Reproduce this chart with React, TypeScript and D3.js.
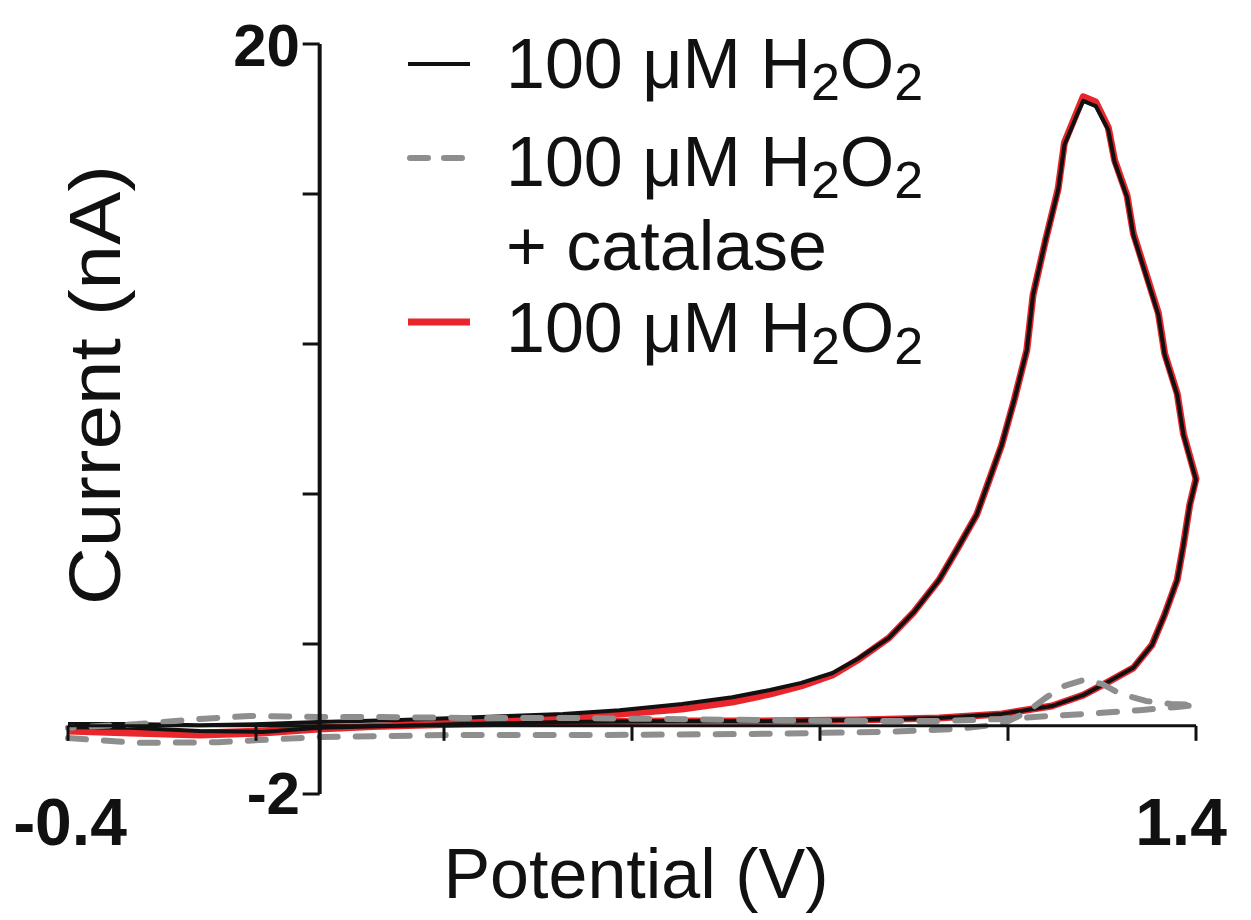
import React from "react";
import * as d3 from "d3";

// ---- Data ----
const blackV = [-0.4, -0.3, -0.19, -0.09, 0.0, 0.13, 0.26, 0.39, 0.48, 0.58, 0.66, 0.72, 0.77, 0.82, 0.86, 0.91, 0.95, 0.99, 1.02, 1.05, 1.07, 1.09, 1.11, 1.13, 1.14, 1.16, 1.18, 1.19, 1.21, 1.22, 1.24, 1.26, 1.27, 1.29, 1.3, 1.32, 1.34, 1.35, 1.37, 1.38, 1.4,
  1.39, 1.38, 1.37, 1.35, 1.33, 1.3, 1.26, 1.22, 1.17, 1.09, 0.99, 0.86, 0.7, 0.55, 0.39, 0.23, 0.1, 0.0, -0.09, -0.19, -0.3, -0.4];
const blackI = [0.05, 0.05, 0.02, 0.05, 0.11, 0.17, 0.26, 0.35, 0.46, 0.64, 0.84, 1.05, 1.26, 1.55, 1.96, 2.58, 3.34, 4.28, 5.22, 6.19, 7.21, 8.24, 9.56, 11.02, 12.64, 14.25, 15.72, 17.04, 17.92, 18.33, 18.18, 17.48, 16.54, 15.51, 14.4, 13.23, 12.05, 10.88, 9.71, 8.53, 7.21,
  6.48, 5.31, 4.28, 3.26, 2.38, 1.7, 1.29, 0.9, 0.58, 0.35, 0.23, 0.17, 0.14, 0.14, 0.11, 0.05, -0.01, -0.06, -0.18, -0.15, -0.06, -0.04];

const redV = [-0.4, -0.3, -0.19, -0.09, 0.0, 0.13, 0.26, 0.39, 0.48, 0.58, 0.66, 0.72, 0.77, 0.82, 0.86, 0.91, 0.95, 0.99, 1.02, 1.05, 1.07, 1.09, 1.11, 1.13, 1.14, 1.16, 1.18, 1.19, 1.21, 1.22, 1.24, 1.26, 1.27, 1.29, 1.3, 1.32, 1.34, 1.35, 1.37, 1.38, 1.4,
  1.39, 1.38, 1.37, 1.35, 1.33, 1.3, 1.26, 1.22, 1.17, 1.09, 0.99, 0.86, 0.7, 0.55, 0.39, 0.23, 0.1, 0.0, -0.09, -0.19, -0.3, -0.4];
const redI = [-0.15, -0.21, -0.27, -0.21, -0.09, 0.02, 0.14, 0.26, 0.35, 0.49, 0.7, 0.93, 1.17, 1.49, 1.93, 2.58, 3.34, 4.28, 5.22, 6.19, 7.21, 8.24, 9.56, 11.02, 12.64, 14.25, 15.75, 17.1, 18.0, 18.45, 18.3, 17.55, 16.6, 15.55, 14.45, 13.28, 12.1, 10.92, 9.75, 8.57, 7.25,
  6.48, 5.31, 4.28, 3.26, 2.38, 1.7, 1.29, 0.9, 0.58, 0.35, 0.23, 0.17, 0.14, 0.14, 0.11, 0.05, -0.01, -0.06, -0.15, -0.21, -0.18, -0.09];

const grayV = [-0.4, -0.29, -0.16, 0.0, 0.21, 0.45, 0.69, 0.9, 1.02, 1.09, 1.13, 1.16, 1.19, 1.22, 1.25, 1.28, 1.32, 1.36, 1.4,
  1.37, 1.31, 1.25, 1.17, 1.09, 0.99, 0.86, 0.7, 0.55, 0.39, 0.23, 0.1, 0.0, -0.11, -0.19, -0.29, -0.4];
const grayI = [-0.36, -0.5, -0.48, -0.33, -0.27, -0.27, -0.24, -0.18, -0.09, 0.05, 0.4, 0.82, 1.17, 1.34, 1.23, 0.93, 0.73, 0.64, 0.61,
  0.55, 0.46, 0.38, 0.29, 0.2, 0.14, 0.14, 0.17, 0.2, 0.23, 0.23, 0.26, 0.26, 0.29, 0.2, 0.05, -0.06];

const xTicks = [-0.4, -0.1, 0.2, 0.5, 0.8, 1.1, 1.4];
const yTicks = [-2, 2.4, 6.8, 11.2, 15.6, 20];
const xTickLabels = ["-0.4", "1.4"];
const yTickLabels = ["-2", "20"];
const legendLabels = ["100 \u03bcM H", "100 \u03bcM H", "100 \u03bcM H"];

const W = 1251;
const H = 920;

export default function App() {
  const x = d3.scaleLinear().domain([-0.4, 1.4]).range([68, 1196]);
  const y = d3.scaleLinear().domain([-2, 20]).range([794, 44]);
  const line = d3
    .line<[number, number]>()
    .x((d) => x(d[0]))
    .y((d) => y(d[1]))
    .curve(d3.curveLinear);
  const zip = (a: number[], b: number[]) => a.map((v, i) => [v, b[i]] as [number, number]);

  const font = "Arial, 'Liberation Sans', Helvetica, sans-serif";
  const y0 = y(0);
  const yAxisX = x(0) + 1;

  const legendFont = 70;
  const subFont = 52;
  const legendX = 506;
  const rows = [88, 186, 270, 352];

  const H2O2 = (label: string, by: number) => (
    <text x={legendX} y={by} fontSize={legendFont} fontFamily={font} fill="#111">
      {label}
      <tspan fontSize={subFont} dy={12}>2</tspan>
      <tspan dy={-12}>O</tspan>
      <tspan fontSize={subFont} dy={12}>2</tspan>
    </text>
  );

  return (
    <svg width={W} height={H} style={{ position: "absolute", left: 0, top: 0, background: "#fff" }}>
      <rect width={W} height={H} fill="#fff" />
      {/* data */}
      <path d={line(zip(redV, redI)) || ""} fill="none" stroke="#e8262b" strokeWidth={7} strokeLinejoin="round" />
      <path d={line(zip(blackV, blackI)) || ""} fill="none" stroke="#111" strokeWidth={4} strokeLinejoin="round" />
      <path d={line(zip(grayV, grayI)) || ""} fill="none" stroke="#8e8e8e" strokeWidth={6} strokeDasharray="18 18" strokeLinecap="round" strokeLinejoin="round" />

      {/* x axis */}
      <line x1={x(-0.4)} x2={x(1.4)} y1={y0} y2={y0} stroke="#111" strokeWidth={3} />
      {xTicks.map((t) => (
        <line key={t} x1={x(t)} x2={x(t)} y1={y0} y2={y0 + 15} stroke="#111" strokeWidth={3} />
      ))}
      {/* y axis */}
      <line x1={yAxisX} x2={yAxisX} y1={y(20)} y2={y(-2)} stroke="#111" strokeWidth={4} />
      {yTicks.map((t) => (
        <line key={t} x1={yAxisX - 17} x2={yAxisX} y1={y(t)} y2={y(t)} stroke="#111" strokeWidth={3} />
      ))}

      {/* tick labels */}
      <text x={300} y={y(20) + 22} textAnchor="end" fontSize={60} fontWeight="bold" fontFamily={font} fill="#111">{yTickLabels[1]}</text>
      <text x={300} y={y(-2) + 20} textAnchor="end" fontSize={60} fontWeight="bold" fontFamily={font} fill="#111">{yTickLabels[0]}</text>
      <text x={70} y={845} textAnchor="middle" fontSize={66} fontWeight="bold" fontFamily={font} fill="#111">{xTickLabels[0]}</text>
      <text x={1181} y={845} textAnchor="middle" fontSize={66} fontWeight="bold" fontFamily={font} fill="#111">{xTickLabels[1]}</text>

      {/* axis titles */}
      <text x={636} y={898} textAnchor="middle" fontSize={70} fontFamily={font} fill="#111">Potential (V)</text>
      <text transform="translate(120,385) rotate(-90)" textAnchor="middle" fontSize={72} fontFamily={font} fill="#111" textLength={440} lengthAdjust="spacingAndGlyphs">Current (nA)</text>

      {/* legend */}
      <line x1={408} x2={470} y1={64} y2={64} stroke="#111" strokeWidth={4} />
      <line x1={410} x2={470} y1={158} y2={158} stroke="#8e8e8e" strokeWidth={6} strokeDasharray="18 16" strokeLinecap="round" />
      <line x1={408} x2={470} y1={322} y2={322} stroke="#e8262b" strokeWidth={7} />
      {H2O2(legendLabels[0], rows[0])}
      {H2O2(legendLabels[1], rows[1])}
      <text x={legendX} y={rows[2]} fontSize={legendFont} fontFamily={font} fill="#111">+ catalase</text>
      {H2O2(legendLabels[2], rows[3])}
    </svg>
  );
}
